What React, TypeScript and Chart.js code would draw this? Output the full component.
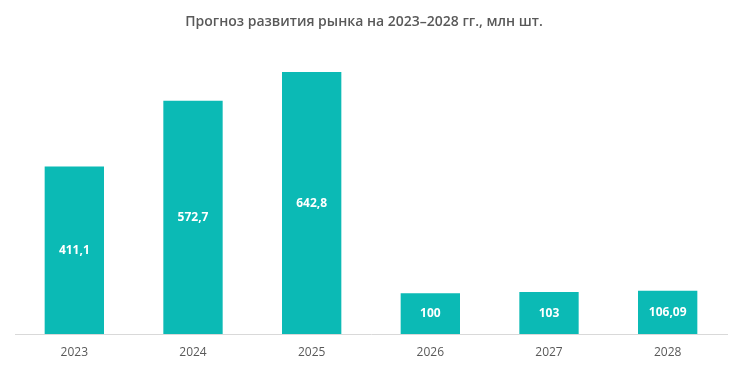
import React, { useEffect, useRef } from "react";
import { Chart, registerables } from "chart.js";

Chart.register(...registerables);

const categories = ["2023", "2024", "2025", "2026", "2027", "2028"];
const values = [411.1, 572.7, 642.8, 100, 103, 106.09];
const valueLabels = ["411,1", "572,7", "642,8", "100", "103", "106,09"];
const title = "Прогноз развития рынка на 2023–2028 гг., млн шт.";

const FONT = "'Open Sans', 'Noto Sans', sans-serif";

const labelPlugin = {
  id: "barLabels",
  afterDatasetsDraw(chart: any) {
    const ctx = chart.ctx;
    const meta = chart.getDatasetMeta(0);
    ctx.save();
    ctx.fillStyle = "#ffffff";
    ctx.font = `bold 12px ${FONT}`;
    ctx.textAlign = "center";
    ctx.textBaseline = "middle";
    meta.data.forEach((bar: any, i: number) => {
      const y = (bar.y + bar.base) / 2;
      ctx.fillText(valueLabels[i], bar.x, y);
    });
    ctx.restore();
  },
};

const titlePlugin = {
  id: "customTitle",
  afterDraw(chart: any) {
    const ctx = chart.ctx;
    ctx.save();
    ctx.fillStyle = "#595959";
    ctx.font = `600 14px ${FONT}`;
    ctx.textAlign = "center";
    ctx.textBaseline = "middle";
    ctx.fillText(title, 364, 22);
    ctx.restore();
  },
};

export default function App() {
  const ref = useRef<HTMLCanvasElement>(null);
  useEffect(() => {
    document.body.style.margin = "0";
    const chart = new Chart(ref.current!, {
      type: "bar",
      data: {
        labels: categories,
        datasets: [
          {
            data: values,
            backgroundColor: "#0BBAB5",
            categoryPercentage: 1,
            barPercentage: 0.5,
          },
        ],
      },
      options: {
        animation: false,
        responsive: false,
        layout: { padding: { top: 52, left: 15, right: 15, bottom: 5.5 } },
        plugins: { legend: { display: false }, tooltip: { enabled: false }, title: { display: false } },
        scales: {
          y: { display: false, min: 0, max: 692 },
          x: {
            grid: { display: false },
            border: { color: "#d9d9d9", width: 1 },
            ticks: { color: "#595959", font: { family: FONT, size: 12 }, padding: 3 },
          },
        },
      },
      plugins: [labelPlugin, titlePlugin],
    });
    return () => chart.destroy();
  }, []);
  return <canvas ref={ref} width={742} height={368} style={{ display: "block" }} />;
}
